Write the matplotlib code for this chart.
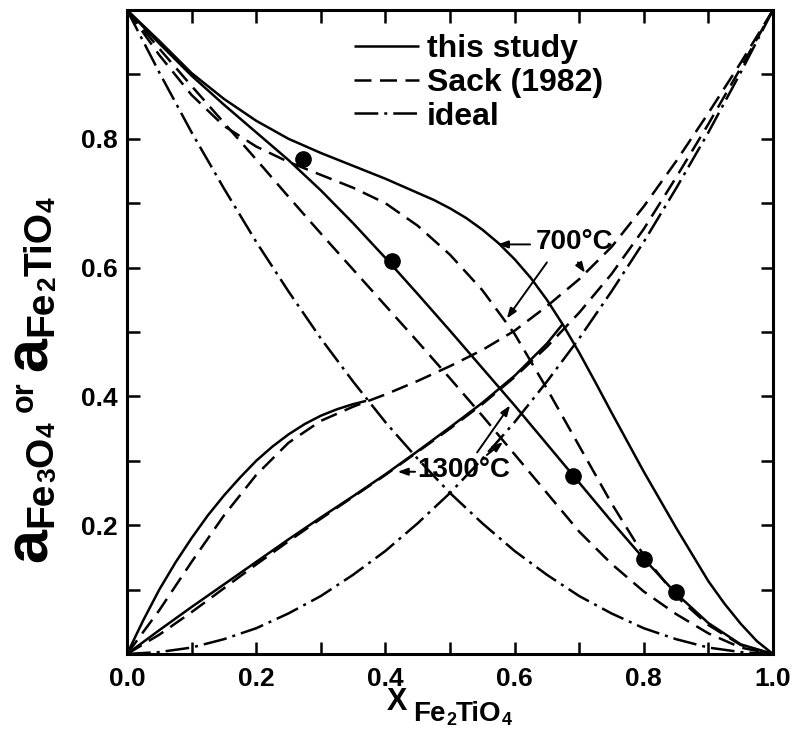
import numpy as np
import matplotlib
matplotlib.use("Agg")
import matplotlib.pyplot as plt
from matplotlib.lines import Line2D

plt.rcParams["font.family"] = ["Liberation Sans", "DejaVu Sans"]
plt.rcParams["font.weight"] = "bold"

# ---- data -------------------------------------------------------------
x_full = [0.0, 0.05, 0.1, 0.15, 0.2, 0.25, 0.3, 0.35, 0.4, 0.45, 0.5,
          0.55, 0.6, 0.65, 0.7, 0.75, 0.8, 0.85, 0.9, 0.95, 1.0]

# a(Fe3O4), this study
x_mt_this_700 = [0.0, 0.05, 0.1, 0.15, 0.2, 0.25, 0.3, 0.35, 0.4, 0.45, 0.475, 0.5,
                 0.525, 0.55, 0.575, 0.6, 0.625, 0.65, 0.675, 0.7, 0.725, 0.75,
                 0.8, 0.85, 0.9, 0.925, 0.95, 0.975, 1.0]
mt_this_700 = [1.0, 0.952, 0.902, 0.862, 0.828, 0.80, 0.778, 0.758, 0.738, 0.716, 0.705,
               0.692, 0.677, 0.659, 0.638, 0.613, 0.584, 0.55, 0.511, 0.468, 0.422,
               0.375, 0.283, 0.196, 0.113, 0.078, 0.047, 0.02, 0.0]
mt_this_1300 = [1.0, 0.948, 0.898, 0.853, 0.81, 0.767, 0.72, 0.669, 0.615, 0.559, 0.502,
                0.444, 0.386, 0.326, 0.266, 0.206, 0.148, 0.094, 0.048, 0.015, 0.0]
# a(Fe3O4), Sack (1982)
mt_sack_700 = [1.0, 0.93, 0.868, 0.82, 0.788, 0.764, 0.744, 0.724, 0.70, 0.665, 0.62,
               0.565, 0.497, 0.412, 0.323, 0.234, 0.153, 0.09, 0.045, 0.014, 0.0]
mt_sack_1300 = [1.0, 0.94, 0.882, 0.825, 0.768, 0.71, 0.653, 0.597, 0.541, 0.485, 0.428,
                0.37, 0.31, 0.25, 0.19, 0.14, 0.097, 0.062, 0.032, 0.01, 0.0]
# a(Fe3O4), ideal
mt_ideal = [1.0, 0.903, 0.81, 0.723, 0.64, 0.563, 0.49, 0.423, 0.36, 0.303, 0.25,
            0.203, 0.16, 0.123, 0.09, 0.063, 0.04, 0.023, 0.01, 0.003, 0.0]

# a(Fe2TiO4), this study (drawn over partial range)
x_usp_this_700 = [0.0, 0.025, 0.05, 0.075, 0.1, 0.125, 0.15, 0.175, 0.2, 0.225,
                  0.25, 0.275, 0.3, 0.325, 0.35, 0.37]
usp_this_700 = [0.0, 0.052, 0.10, 0.142, 0.18, 0.215, 0.246, 0.274, 0.30, 0.322,
                0.341, 0.357, 0.37, 0.38, 0.388, 0.393]
x_usp_this_1300 = [0.0, 0.05, 0.1, 0.15, 0.2, 0.25, 0.3, 0.35, 0.4, 0.45, 0.5,
                   0.55, 0.6, 0.65, 0.675]
usp_this_1300 = [0.0, 0.037, 0.073, 0.108, 0.143, 0.178, 0.212, 0.245, 0.279, 0.315,
                 0.352, 0.39, 0.432, 0.482, 0.513]
# a(Fe2TiO4), Sack (1982)
usp_sack_700 = [0.0, 0.068, 0.143, 0.215, 0.278, 0.328, 0.362, 0.384, 0.403, 0.424, 0.447,
                0.472, 0.502, 0.54, 0.582, 0.632, 0.695, 0.765, 0.84, 0.918, 1.0]
usp_sack_1300 = [0.0, 0.03, 0.065, 0.102, 0.139, 0.175, 0.21, 0.244, 0.278, 0.314, 0.35,
                 0.388, 0.43, 0.477, 0.53, 0.59, 0.66, 0.74, 0.823, 0.91, 1.0]
# a(Fe2TiO4), ideal
usp_ideal = [0.0, 0.003, 0.01, 0.023, 0.04, 0.063, 0.09, 0.123, 0.16, 0.203, 0.25,
             0.303, 0.36, 0.423, 0.49, 0.563, 0.64, 0.723, 0.81, 0.903, 1.0]

# measured magnetite activities
x_obs = [0.272, 0.41, 0.69, 0.80, 0.85]
a_obs = [0.768, 0.611, 0.277, 0.148, 0.097]

x_ticks = [0.0, 0.2, 0.4, 0.6, 0.8, 1.0]
x_ticklabels = ["0.0", "0.2", "0.4", "0.6", "0.8", "1.0"]
y_ticks = [0.2, 0.4, 0.6, 0.8]
y_ticklabels = ["0.2", "0.4", "0.6", "0.8"]
minor_ticks = [0.1, 0.3, 0.5, 0.7, 0.9]

legend_labels = ["this study", "Sack (1982)", "ideal"]

# ---- styling ----------------------------------------------------------
W, H = 794, 730
LW = 1.8
SOLID = dict(color="black", lw=LW, linestyle="-", solid_capstyle="butt")
DASH = dict(color="black", lw=LW, linestyle=(0, (6.8, 3.4)), dash_capstyle="butt")
DASHDOT = dict(color="black", lw=LW, linestyle=(0, (9.5, 2.4, 1.2, 2.4)),
               dash_capstyle="butt")

fig = plt.figure(figsize=(W / 100, H / 100), dpi=100)
ax = fig.add_axes([127 / W, 76 / H, 646 / W, 644 / H])

ax.plot(x_mt_this_700, mt_this_700, **SOLID)
ax.plot(x_full, mt_this_1300, **SOLID)
ax.plot(x_usp_this_700, usp_this_700, **SOLID)
ax.plot(x_usp_this_1300, usp_this_1300, **SOLID)
ax.plot(x_full, mt_sack_700, **DASH)
ax.plot(x_full, mt_sack_1300, **DASH)
ax.plot(x_full, usp_sack_700, **DASH)
ax.plot(x_full, usp_sack_1300, **DASH)
ax.plot(x_full, mt_ideal, **DASHDOT)
ax.plot(x_full, usp_ideal, **DASHDOT)
ax.plot(x_obs, a_obs, "o", color="black", ms=11, zorder=5)

ax.set_xlim(0, 1)
ax.set_ylim(0, 1)
ax.set_xticks(x_ticks)
ax.set_xticklabels(x_ticklabels)
ax.set_yticks(y_ticks)
ax.set_yticklabels(y_ticklabels)
ax.set_xticks(minor_ticks, minor=True)
ax.set_yticks(minor_ticks, minor=True)
ax.tick_params(which="both", direction="in", length=9, width=1.8,
               top=True, right=True)
ax.tick_params(axis="x", which="major", labelsize=19, pad=9)
ax.tick_params(axis="y", which="major", labelsize=19, pad=7)
for lab in ax.get_xticklabels() + ax.get_yticklabels():
    lab.set_fontweight("bold")
for sp in ax.spines.values():
    sp.set_linewidth(2.2)

# legend
handles = [Line2D([], [], **SOLID), Line2D([], [], **DASH), Line2D([], [], **DASHDOT)]
ax.legend(handles, legend_labels, loc="upper left",
          bbox_to_anchor=(354 / W, 1 - 34 / H), bbox_transform=fig.transFigure,
          frameon=False, prop=dict(size=23, weight="bold"),
          handlelength=2.05, handletextpad=0.22, labelspacing=0.12,
          borderpad=0, borderaxespad=0)

# temperature labels and arrows
arrow = dict(arrowstyle="-|>,head_length=0.6,head_width=0.22", color="black",
             lw=1.4, shrinkA=0, shrinkB=0)
ax.text(0.632, 0.639, "700°C", fontsize=20, fontweight="bold",
        ha="left", va="center")
ax.annotate("", xy=(0.574, 0.636), xytext=(0.624, 0.636), arrowprops=arrow)
ax.annotate("", xy=(0.588, 0.521), xytext=(0.650, 0.608), arrowprops=arrow)
ax.annotate("", xy=(0.709, 0.592), xytext=(0.698, 0.608), arrowprops=arrow)

ax.text(0.450, 0.285, "1300°C", fontsize=20, fontweight="bold",
        ha="left", va="center")
ax.annotate("", xy=(0.419, 0.283), xytext=(0.446, 0.283), arrowprops=arrow)
ax.annotate("", xy=(0.593, 0.386), xytext=(0.542, 0.313), arrowprops=arrow)
ax.annotate("", xy=(0.582, 0.329), xytext=(0.557, 0.309), arrowprops=arrow)

# ---- axis titles built from pieces with subscripts ---------------------
fig.canvas.draw()
renderer = fig.canvas.get_renderer()


def run_text(pieces, x0, y0, vertical):
    """Lay text pieces end to end; each piece is (text, size, shift, gap)."""
    pos = x0 if not vertical else y0
    for s, size, shift, gap in pieces:
        if vertical:
            t = fig.text((x0 + shift) / W, pos / H, s, rotation=90,
                         rotation_mode="anchor", ha="left", va="baseline",
                         fontsize=size, fontweight="bold")
            pos += t.get_window_extent(renderer).height + gap
        else:
            t = fig.text(pos / W, (y0 - shift) / H, s, ha="left", va="baseline",
                         fontsize=size, fontweight="bold")
            pos += t.get_window_extent(renderer).width + gap


ylabel_pieces = [("a", 44, 0, 1), ("Fe", 28, 5, 0), ("3", 19, 8, 0),
                 ("O", 28, 5, 0), ("4", 19, 8, 10), ("or", 22, -14, 10),
                 ("a", 44, 0, 1), ("Fe", 28, 5, 0), ("2", 19, 8, 0),
                 ("TiO", 28, 5, 0), ("4", 19, 8, 0)]
run_text(ylabel_pieces, 47, H - 562, vertical=True)

xlabel_pieces = [("X", 22, 0, 6), ("Fe", 20, 11, 0), ("2", 13, 15, 0),
                 ("TiO", 20, 11, 0), ("4", 13, 15, 0)]
run_text(xlabel_pieces, 387, H - 710, vertical=False)

fig.savefig("out.png", dpi=100)
